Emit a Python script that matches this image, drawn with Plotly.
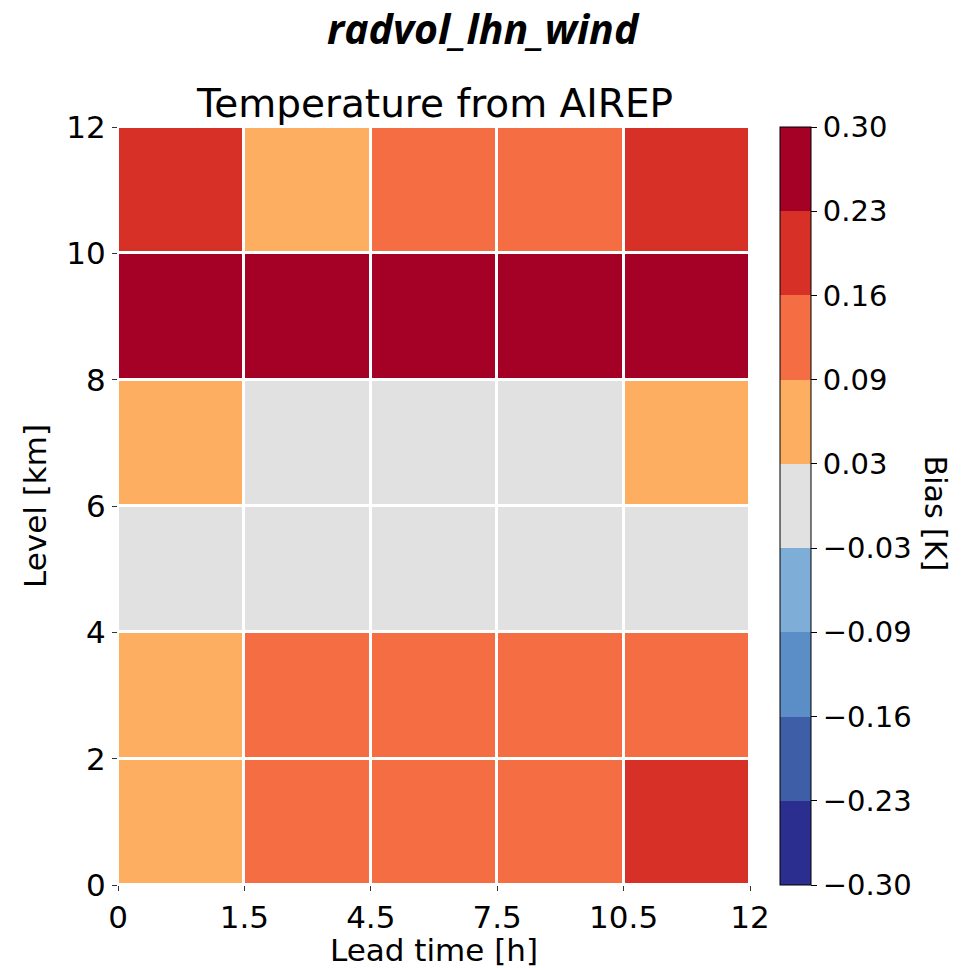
import plotly.graph_objects as go

# Lead-time bins (labels at the bin edges) and level bin edges [km]
lead_time_labels = ["0", "1.5", "4.5", "7.5", "10.5", "12"]
level_edges = [0, 2, 4, 6, 8, 10, 12]
level_labels = ["0", "2", "4", "6", "8", "10", "12"]

# Temperature bias [K], rows from lowest level (0-2 km) to highest (10-12 km)
bias_0_2 = [0.06, 0.13, 0.13, 0.13, 0.20]
bias_2_4 = [0.06, 0.13, 0.13, 0.13, 0.13]
bias_4_6 = [0.00, 0.00, 0.00, 0.00, 0.00]
bias_6_8 = [0.06, 0.00, 0.00, 0.00, 0.06]
bias_8_10 = [0.27, 0.27, 0.27, 0.27, 0.27]
bias_10_12 = [0.20, 0.06, 0.13, 0.13, 0.20]
bias = [bias_0_2, bias_2_4, bias_4_6, bias_6_8, bias_8_10, bias_10_12]

# Discrete colour levels of the colour bar
cbar_ticktext = ["\u22120.30", "\u22120.23", "\u22120.16", "\u22120.09", "\u22120.03",
                 "0.03", "0.09", "0.16", "0.23", "0.30"]
bin_colors = ["#2b2e8e", "#3f5ea8", "#5b8ec6", "#7eadd8", "#e1e1e1",
              "#fdae61", "#f46d43", "#d73027", "#a50026"]

zmin, zmax = -0.30, 0.30
n_bins = len(bin_colors)
cbar_tickvals = [zmin + i * (zmax - zmin) / n_bins for i in range(n_bins + 1)]

colorscale = []
for i, c in enumerate(bin_colors):
    colorscale.append([i / n_bins, c])
    colorscale.append([(i + 1) / n_bins, c])

# Lead-time bins are drawn with equal width, one column per bin
x_edges = list(range(len(lead_time_labels)))

FONT = "DejaVu Sans"

fig = go.Figure()
fig.add_trace(go.Heatmap(
    x=x_edges,
    y=level_edges,
    z=bias,
    zmin=zmin,
    zmax=zmax,
    colorscale=colorscale,
    xgap=3,
    ygap=3,
    colorbar=dict(
        x=1.0475,
        xanchor="left",
        y=0.5,
        yanchor="middle",
        len=1.0,
        lenmode="fraction",
        thickness=31,
        thicknessmode="pixels",
        outlinecolor="black",
        outlinewidth=1,
        tickmode="array",
        tickvals=cbar_tickvals,
        ticktext=cbar_ticktext,
        ticks="outside",
        ticklen=6,
        tickcolor="black",
        tickfont=dict(family=FONT, size=29, color="black"),
        xpad=0,
        ypad=0,
    ),
))

fig.update_layout(
    width=966,
    height=968,
    margin=dict(l=118, r=216, t=127, b=83),
    paper_bgcolor="white",
    plot_bgcolor="white",
    font=dict(family=FONT, color="black"),
    xaxis=dict(
        range=[x_edges[0], x_edges[-1]],
        tickmode="array",
        tickvals=x_edges,
        ticktext=lead_time_labels,
        ticks="outside",
        ticklen=5,
        tickcolor="#333333",
        tickfont=dict(family=FONT, size=31),
        showgrid=False,
        zeroline=False,
        showline=False,
        automargin=False,
        title=dict(text="Lead time [h]", font=dict(family=FONT, size=31), standoff=4),
    ),
    yaxis=dict(
        range=[level_edges[0], level_edges[-1]],
        tickmode="array",
        tickvals=level_edges,
        ticktext=level_labels,
        ticks="outside",
        ticklen=5,
        tickcolor="#333333",
        tickfont=dict(family=FONT, size=31),
        showgrid=False,
        zeroline=False,
        showline=False,
        automargin=False,
        title=dict(text="Level [km]", font=dict(family=FONT, size=31), standoff=10),
    ),
    annotations=[
        dict(
            text="<b><i>radvol_lhn_wind</i></b>",
            xref="paper", yref="paper",
            x=(483 - 118) / 632, y=1.0,
            xanchor="center", yanchor="middle",
            yshift=127 - 28,
            showarrow=False,
            font=dict(family="Open Sans", size=41, color="black"),
        ),
        dict(
            text="Temperature from AIREP",
            xref="paper", yref="paper",
            x=0.5, y=1.0,
            xanchor="center", yanchor="middle",
            yshift=24,
            showarrow=False,
            font=dict(family=FONT, size=39, color="black"),
        ),
        dict(
            text="Bias [K]",
            xref="paper", yref="paper",
            x=(935 - 118) / 632, y=0.49,
            xanchor="center", yanchor="middle",
            textangle=90,
            showarrow=False,
            font=dict(family=FONT, size=30, color="black"),
        ),
    ],
)

fig.write_html("out.html")
